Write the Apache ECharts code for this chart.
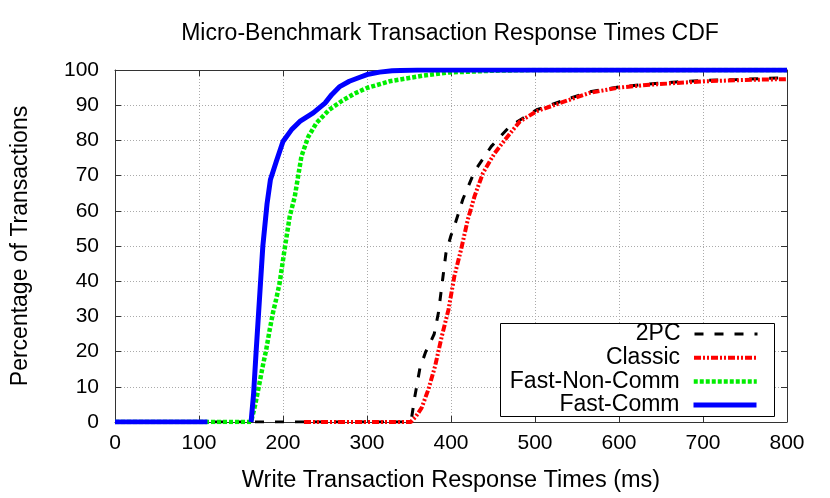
<!DOCTYPE html>
<html>
<head>
<meta charset="utf-8">
<script src="https://cdn.jsdelivr.net/npm/echarts@6/dist/echarts.min.js"></script>
<style>
    html, body { margin: 0; padding: 0; background: #fff; }
    #chart { width: 830px; height: 498px; }
</style>
</head>
<body>
<div id="chart"></div>
<script>
// x in ms, y in percent
const xTicks = [0, 100, 200, 300, 400, 500, 600, 700, 800]
const yTicks = [0, 10, 20, 30, 40, 50, 60, 70, 80, 90, 100]

const twoPcX = [0, 350, 353, 357, 363, 370, 375, 380, 385, 390, 394, 400, 404, 414, 428, 448, 470, 502, 537, 565, 600, 636, 668, 704, 740, 775, 800]
const twoPcY = [0, 0, 1, 7.3, 15.3, 20, 22.4, 25, 31, 40.4, 48, 53, 55.6, 63.2, 71.2, 78.3, 84, 88.7, 91.6, 93.8, 95.2, 96, 96.6, 97.1, 97.3, 97.6, 97.8]

const classicX = [225, 352, 358, 365, 373, 381, 389, 397, 404, 412, 420, 428, 438, 452, 466, 482, 502, 537, 565, 600, 636, 668, 704, 740, 775, 800]
const classicY = [0, 0, 1.5, 4, 9.2, 15.8, 24.3, 31.9, 41.4, 49, 57.5, 64.1, 70.7, 76.4, 80.7, 85.4, 88.3, 91.2, 93.5, 95, 95.8, 96.3, 96.8, 97.1, 97.3, 97.4]

const fastNonCommX = [0, 162, 167, 172, 176, 180, 184, 188, 192, 196, 202, 208, 214, 218, 222, 230, 240, 255, 270, 285, 300, 327, 367, 398, 450, 500, 600, 700, 800]
const fastNonCommY = [0, 0, 5, 11, 16, 20.5, 26, 31, 35, 39.5, 49.2, 58.4, 64, 69.8, 75.5, 81, 85, 88.7, 91.2, 93.3, 94.9, 96.8, 98.4, 99.3, 99.8, 100, 100, 100, 100]

// null leaves the small gap seen before the rise
const fastCommX = [0, 110, 136, 162, 165, 168, 172, 176, 181, 185, 192, 200, 210, 220, 236, 250, 258, 267, 279, 290, 300, 315, 330, 360, 400, 500, 600, 700, 800]
const fastCommY = [0, 0, null, 0, 8, 20, 35, 50, 62, 68.8, 74, 79.7, 83, 85.4, 87.8, 90.6, 93, 95.2, 96.8, 97.8, 98.7, 99.4, 99.8, 100, 100, 100, 100, 100, 100]

const names = ['2PC', 'Classic', 'Fast-Non-Comm', 'Fast-Comm']

const pairs = (xs, ys) => xs.map((x, i) => [x, ys[i] === null ? '-' : ys[i]])

const font = 'Liberation Sans, Arial, sans-serif'
const frame = '#333'
const lineWidths = [3, 4, 4.5, 5]

const myChart = echarts.init(document.getElementById('chart'), null, { renderer: 'canvas' })

function axisBase(extra) {
    return Object.assign({
        type: 'value',
        axisLine: { show: true, onZero: false, lineStyle: { color: frame, width: 1 } },
        axisTick: { show: true, inside: true, length: 6, lineStyle: { color: frame } },
        splitLine: { show: false }
    }, extra)
}

// one legend per row so text stays right-aligned against the samples
const legends = names.map((n, i) => ({
    data: [n],
    orient: 'horizontal',
    align: 'right',
    right: 71,
    top: 322.5 + i * 23.7,
    padding: 0,
    itemWidth: 63,
    itemHeight: 14,
    selectedMode: false,
    itemStyle: { opacity: 0 },
    lineStyle: { width: lineWidths[i] },
    textStyle: { fontFamily: font, fontSize: 23, color: '#000', padding: [0, 9, 0, 0] }
}))

const option = {
    animation: false,
    backgroundColor: '#fff',
    title: {
        text: 'Micro-Benchmark Transaction Response Times CDF',
        left: 450,
        top: 22,
        padding: 0,
        textAlign: 'center',
        textStyle: { fontFamily: font, fontSize: 23, fontWeight: 'normal', color: '#000' }
    },
    grid: { left: 115, right: 43, top: 70, bottom: 76 },
    legend: legends,
    graphic: [{
        type: 'rect',
        shape: { x: 500.5, y: 323.5, width: 274, height: 93 },
        style: { fill: '#fff', stroke: '#000', lineWidth: 1 },
        z: 1
    }],
    xAxis: [
        axisBase({
            min: xTicks[0], max: xTicks[xTicks.length - 1], interval: 100,
            position: 'bottom',
            name: 'Write Transaction Response Times (ms)',
            nameLocation: 'middle',
            nameGap: 47,
            nameTextStyle: { fontFamily: font, fontSize: 23.5, color: '#000' },
            axisLabel: { fontFamily: font, fontSize: 21, color: '#000', margin: 11 },
            splitLine: { show: true, lineStyle: { color: '#aaa', type: [1, 2], width: 1 } }
        }),
        axisBase({
            min: xTicks[0], max: xTicks[xTicks.length - 1], interval: 100,
            position: 'top',
            axisLabel: { show: false }
        })
    ],
    yAxis: [
        axisBase({
            min: yTicks[0], max: yTicks[yTicks.length - 1], interval: 10,
            position: 'left',
            name: 'Percentage of Transactions',
            nameLocation: 'middle',
            nameGap: 83,
            nameTextStyle: { fontFamily: font, fontSize: 23, color: '#000' },
            axisLabel: { fontFamily: font, fontSize: 21, color: '#000', margin: 16 },
            splitLine: { show: true, lineStyle: { color: '#aaa', type: [1, 2], width: 1 } }
        }),
        axisBase({
            min: yTicks[0], max: yTicks[yTicks.length - 1], interval: 10,
            position: 'right',
            axisLabel: { show: false }
        })
    ],
    series: [
        {
            name: '2PC', type: 'line', data: pairs(twoPcX, twoPcY),
            symbol: 'none', z: 2,
            lineStyle: { color: '#000', width: lineWidths[0], type: [9, 11] },
            itemStyle: { color: '#000' }
        },
        {
            name: 'Classic', type: 'line', data: pairs(classicX, classicY),
            symbol: 'none', z: 3,
            lineStyle: { color: '#ff0000', width: lineWidths[1], type: [7, 2, 2, 2, 2, 2] },
            itemStyle: { color: '#ff0000' }
        },
        {
            name: 'Fast-Non-Comm', type: 'line', data: pairs(fastNonCommX, fastNonCommY),
            symbol: 'none', z: 4,
            lineStyle: { color: '#00ee00', width: lineWidths[2], type: [4, 2] },
            itemStyle: { color: '#00ee00' }
        },
        {
            name: 'Fast-Comm', type: 'line', data: pairs(fastCommX, fastCommY),
            symbol: 'none', z: 5,
            connectNulls: false,
            lineStyle: { color: '#0000ff', width: lineWidths[3] },
            itemStyle: { color: '#0000ff' }
        }
    ]
};

myChart.setOption(option, true);
window.addEventListener('resize', () => {
    myChart.resize();
})
</script>
</body>
</html>
